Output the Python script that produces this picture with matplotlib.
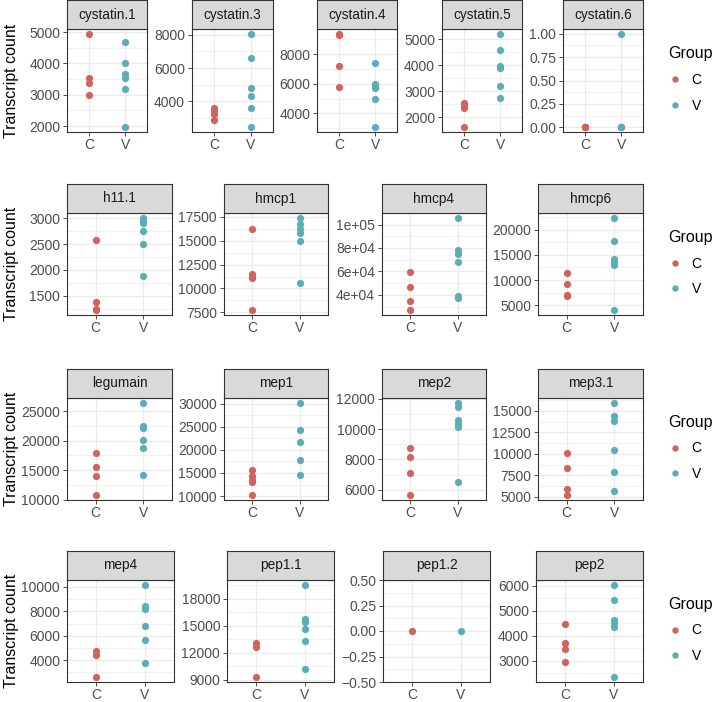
import matplotlib
matplotlib.use("Agg")
import matplotlib.pyplot as plt
from matplotlib.lines import Line2D

plt.rcParams['font.family'] = ['Liberation Sans', 'DejaVu Sans']

# ── Data (transcript counts) ─────────────────────────────────
groups = ["C", "V"]

cystatin_1_C = [4950, 3540, 3370, 2980]
cystatin_1_V = [4690, 4000, 3650, 3530, 3170, 1960]
cystatin_3_C = [3620, 3420, 3250, 2880]
cystatin_3_V = [8060, 6620, 4820, 4290, 3600, 2440]
cystatin_4_C = [9370, 9250, 7170, 5780]
cystatin_4_V = [7370, 5970, 5830, 5700, 4950, 3060]
cystatin_5_C = [2540, 2440, 2360, 1620]
cystatin_5_V = [5220, 4610, 3960, 3900, 3190, 2750]
cystatin_6_C = [0, 0, 0, 0]
cystatin_6_V = [1, 0, 0, 0]

h11_1_C = [2575, 1390, 1240, 1220]
h11_1_V = [3010, 2950, 2900, 2750, 2500, 1880]
hmcp1_C = [16200, 11480, 11250, 11080, 7710]
hmcp1_V = [17420, 16800, 16260, 15780, 14960, 10620]
hmcp4_C = [59400, 47000, 34700, 26800]
hmcp4_V = [105900, 78600, 75000, 68000, 39200, 37300]
hmcp6_C = [11450, 9210, 7100, 6850]
hmcp6_V = [22430, 17760, 14140, 13490, 12960, 3950]

legumain_C = [17920, 15500, 14040, 10730]
legumain_V = [26460, 22420, 22080, 20170, 18820, 14100]
mep1_C = [15650, 14280, 13500, 13130, 10140]
mep1_V = [30290, 24390, 21800, 17920, 14640]
mep2_C = [8770, 8175, 7080, 5630]
mep2_V = [11740, 11450, 10620, 10360, 10130, 6520]
mep3_1_C = [10040, 8330, 5890, 5150]
mep3_1_V = [15970, 14420, 13840, 10390, 7890, 5620]

mep4_C = [4730, 4460, 2590]
mep4_V = [10190, 8430, 8160, 6780, 5670, 3760]
pep1_1_C = [13100, 12620, 9290]
pep1_1_V = [19570, 15730, 15480, 14670, 13320, 10250]
pep1_2_C = [0]
pep1_2_V = [0]
pep2_C = [4490, 3710, 3470, 2950]
pep2_V = [6050, 5420, 4640, 4500, 4340, 2340]

# y breaks per panel
ticks_cystatin_1 = [2000, 3000, 4000, 5000]
ticks_cystatin_3 = [4000, 6000, 8000]
ticks_cystatin_4 = [4000, 6000, 8000]
ticks_cystatin_5 = [2000, 3000, 4000, 5000]
ticks_cystatin_6 = [0, 0.25, 0.5, 0.75, 1.0]
ticks_h11_1 = [1500, 2000, 2500, 3000]
ticks_hmcp1 = [7500, 10000, 12500, 15000, 17500]
ticks_hmcp4 = [40000, 60000, 80000, 100000]
ticks_hmcp6 = [5000, 10000, 15000, 20000]
ticks_legumain = [10000, 15000, 20000, 25000]
ticks_mep1 = [10000, 15000, 20000, 25000, 30000]
ticks_mep2 = [6000, 8000, 10000, 12000]
ticks_mep3_1 = [5000, 7500, 10000, 12500, 15000]
ticks_mep4 = [4000, 6000, 8000, 10000]
ticks_pep1_1 = [9000, 12000, 15000, 18000]
ticks_pep1_2 = [-0.5, -0.25, 0, 0.25, 0.5]
ticks_pep2 = [3000, 4000, 5000, 6000]

rows = [
    [("cystatin.1", cystatin_1_C, cystatin_1_V, ticks_cystatin_1),
     ("cystatin.3", cystatin_3_C, cystatin_3_V, ticks_cystatin_3),
     ("cystatin.4", cystatin_4_C, cystatin_4_V, ticks_cystatin_4),
     ("cystatin.5", cystatin_5_C, cystatin_5_V, ticks_cystatin_5),
     ("cystatin.6", cystatin_6_C, cystatin_6_V, ticks_cystatin_6)],
    [("h11.1", h11_1_C, h11_1_V, ticks_h11_1),
     ("hmcp1", hmcp1_C, hmcp1_V, ticks_hmcp1),
     ("hmcp4", hmcp4_C, hmcp4_V, ticks_hmcp4),
     ("hmcp6", hmcp6_C, hmcp6_V, ticks_hmcp6)],
    [("legumain", legumain_C, legumain_V, ticks_legumain),
     ("mep1", mep1_C, mep1_V, ticks_mep1),
     ("mep2", mep2_C, mep2_V, ticks_mep2),
     ("mep3.1", mep3_1_C, mep3_1_V, ticks_mep3_1)],
    [("mep4", mep4_C, mep4_V, ticks_mep4),
     ("pep1.1", pep1_1_C, pep1_1_V, ticks_pep1_1),
     ("pep1.2", pep1_2_C, pep1_2_V, ticks_pep1_2),
     ("pep2", pep2_C, pep2_V, ticks_pep2)],
]

# ── Layout (pixels) ──────────────────────────────────────────
W, H = 721, 702
ROW_LAYOUT = [
    (0, 29, 132, [(67, 147), (192, 273), (317, 397), (442, 522), (563, 643)]),
    (184, 213, 315, [(67, 172), (224, 328), (382, 486), (538, 643)]),
    (369, 398, 500, [(67, 172), (224, 328), (382, 486), (538, 643)]),
    (551, 580, 682, [(67, 174), (227, 334), (383, 490), (536, 643)]),
]

COL = {"C": "#D0635C", "V": "#5BADB6"}
DARK = "#333333"
GRID = "#EBEBEB"
TICK_SIZE = 10


def box(x0, y0, x1, y1):
    return [x0 / W, 1 - y1 / H, (x1 - x0) / W, (y1 - y0) / H]


def fmt(t, ticks):
    if max(ticks) >= 1e5:
        return f"{t:.0e}"
    if any(float(v) != int(v) for v in ticks):
        return f"{t:.2f}".replace("-", "\u2212")
    return f"{int(t)}"


fig = plt.figure(figsize=(W / 100, H / 100), dpi=100)

for (s_top, p_top, p_bot, xs), panels in zip(ROW_LAYOUT, rows):
    for (x0, x1), (name, c_vals, v_vals, ticks) in zip(xs, panels):
        ax = fig.add_axes(box(x0, p_top, x1, p_bot))
        ax.scatter([1] * len(c_vals), c_vals, s=27, color=COL["C"], linewidths=0, zorder=3)
        ax.scatter([2] * len(v_vals), v_vals, s=27, color=COL["V"], linewidths=0, zorder=3)

        ax.set_xticks([1, 2])
        ax.set_xticklabels(groups)
        ax.set_yticks(ticks)
        ax.set_yticklabels([fmt(t, ticks) for t in ticks])
        step = ticks[1] - ticks[0]
        minors = [ticks[0] - step / 2] + [t + step / 2 for t in ticks]
        ax.set_yticks(minors, minor=True)

        lo = min(c_vals + v_vals)
        hi = max(c_vals + v_vals)
        if hi == lo:
            lo, hi = lo - 0.5, hi + 0.5
        else:
            pad = 0.05 * (hi - lo)
            lo, hi = lo - pad, hi + pad
        ax.set_ylim(lo, hi)
        ax.set_xlim(0.4, 2.6)

        ax.set_axisbelow(True)
        ax.grid(which="major", color=GRID, linewidth=0.9)
        ax.grid(which="minor", axis="y", color=GRID, linewidth=0.45)
        for sp in ax.spines.values():
            sp.set_color(DARK)
            sp.set_linewidth(0.8)
        ax.tick_params(which="major", length=2.75, width=0.6, color=DARK,
                       labelsize=TICK_SIZE, labelcolor="#4D4D4D", pad=2.2)
        ax.tick_params(axis="x", which="major", pad=1.6)
        ax.tick_params(which="minor", length=0)

        # strip
        sax = fig.add_axes(box(x0, s_top, x1, p_top))
        sax.set_facecolor("#D9D9D9")
        sax.set_xticks([])
        sax.set_yticks([])
        for sp in sax.spines.values():
            sp.set_color(DARK)
            sp.set_linewidth(0.8)
        sax.text(0.5, 0.5, name, ha="center", va="center", fontsize=9.8,
                 color="#1A1A1A", transform=sax.transAxes)

    center = (p_top + p_bot) / 2
    fig.text(12 / W, 1 - center / H, "Transcript count", rotation=90,
             ha="center", va="center", fontsize=11.5, color="black")

    handles = [Line2D([], [], marker="o", ls="", color=COL[g], markersize=4.6,
                      markeredgewidth=0) for g in groups]
    fig.legend(handles, groups, title="Group", loc="center left",
               bbox_to_anchor=(668 / W, 1 - (center - 1) / H), frameon=False,
               fontsize=TICK_SIZE, title_fontsize=11.5, handlelength=1.0,
               handletextpad=0.7, labelspacing=0.85, borderpad=0,
               borderaxespad=0, alignment="left")

fig.savefig("out.png", dpi=100)
